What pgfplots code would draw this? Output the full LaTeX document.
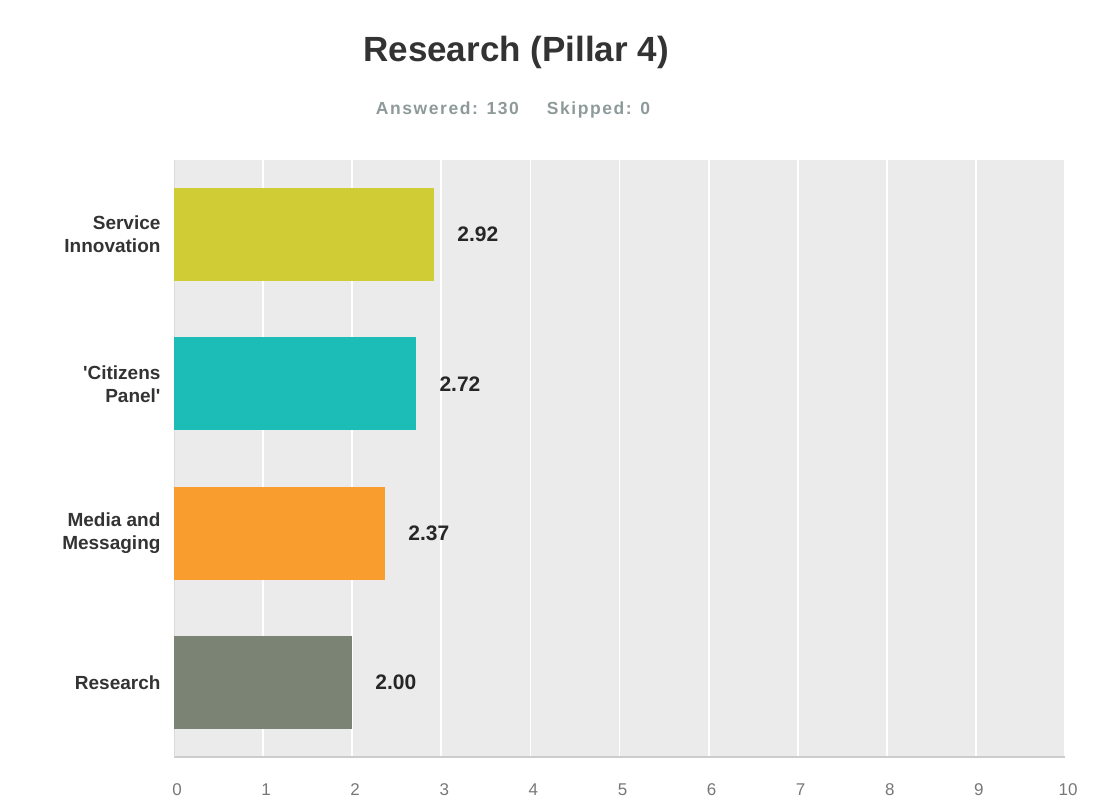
\documentclass[border=0pt]{standalone}
\usepackage{fontspec}
\setmainfont{Liberation Sans}
\usepackage{pgfplots}
\pgfplotsset{compat=1.18}
\definecolor{bgGrey}{HTML}{EBEBEB}
\definecolor{cSI}{HTML}{CFCC35}
\definecolor{cCP}{HTML}{1CBCB7}
\definecolor{cMM}{HTML}{F89D2E}
\definecolor{cRE}{HTML}{7B8375}
\definecolor{titleC}{HTML}{333333}
\definecolor{subC}{HTML}{8E9A9A}
\definecolor{tickC}{HTML}{777777}
\definecolor{axC}{HTML}{CCCCCC}
\begin{document}
\begin{tikzpicture}
\useasboundingbox (0,0) rectangle (1095bp,805bp);
\begin{axis}[
  at={(174bp,48bp)}, anchor=south west,
  width=891bp, height=597bp, scale only axis,
  xbar, bar width=93bp,
  xmin=0, xmax=10, ymin=-0.5, ymax=3.5,
  axis background/.style={fill=bgGrey},
  xtick={0,1,...,10}, ytick={0,1,2,3},
  yticklabels={Research,{Media and\\Messaging},{\textquotesingle Citizens\\Panel\textquotesingle},{Service\\Innovation}},
  xmajorgrids, grid style={white, line width=1.8bp},
  major tick length=0pt,
  axis x line*=bottom, axis y line*=left,
  x axis line style={draw=axC, line width=2bp, -},
  y axis line style={draw=axC!70, line width=0.8bp, -},
  /pgf/number format/assume math mode=true,
  xticklabel style={font=\fontsize{17bp}{20bp}\selectfont, text=tickC, yshift=-23bp, xshift=3bp},
  yticklabel style={align=right, font=\bfseries\fontsize{19bp}{23bp}\selectfont, text=titleC, xshift=-10bp},
  nodes near coords={\pgfmathprintnumber[fixed,fixed zerofill,precision=2]{\pgfplotspointmeta}},
  nodes near coords style={anchor=west, inner sep=0pt, xshift=23bp, font=\bfseries\fontsize{21bp}{25bp}\selectfont, text=black!85},
]
\addplot[fill=cSI, draw=none, bar shift=0pt] coordinates {(2.92,3)};
\addplot[fill=cCP, draw=none, bar shift=0pt] coordinates {(2.72,2)};
\addplot[fill=cMM, draw=none, bar shift=0pt] coordinates {(2.37,1)};
\addplot[fill=cRE, draw=none, bar shift=0pt] coordinates {(2.00,0)};
\end{axis}
\node[font=\bfseries\fontsize{35bp}{40bp}\selectfont, text=titleC] at (516bp,753bp) {Research (Pillar 4)};
\node[font=\bfseries\fontsize{17.5bp}{20bp}\selectfont\addfontfeature{LetterSpace=9}, text=subC] at (513bp,695bp) {Answered: 130\hspace{28bp}Skipped: 0};
\end{tikzpicture}
\end{document}
